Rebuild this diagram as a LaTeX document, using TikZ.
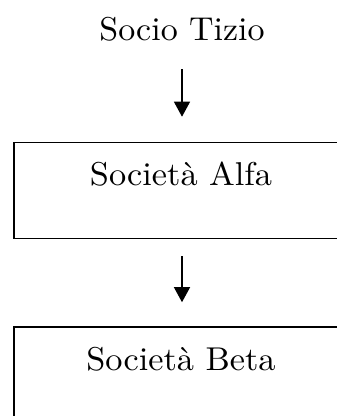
\documentclass[tikz,border=0pt]{standalone}
\usepackage{fontspec}
\newfontfamily\lmten{lmroman10-regular.otf}
\usetikzlibrary{arrows.meta}
\begin{document}
\begin{tikzpicture}[x=1pt,y=1pt,
  lbl/.style={font=\lmten\fontsize{33}{38}\selectfont, inner sep=0pt},
  boxnode/.style={lbl, draw, line width=1.6pt, minimum width=334pt, text height=43pt, text depth=53pt, anchor=base},
  conn/.style={line width=1.4pt, -{Triangle[length=15pt,width=16pt]}}]
\useasboundingbox (0,0) rectangle (337,-416);
\clip (0,0) rectangle (337,-416);
\node[lbl, text depth=0pt, anchor=base] (tizio) at (182,-40.5) {\scalebox{1.03}[1]{Socio Tizio}};
\node[boxnode] (alfa) at (181,-185.5) {\scalebox{1.04}[1]{Società Alfa}};
\node[boxnode] (beta) at (181,-370) {\scalebox{1.04}[1]{Società Beta}};
\draw[conn, shorten <=28.5pt, shorten >=25pt] (tizio.south) -- (tizio.south |- alfa.north);
\draw[conn, shorten <=17pt, shorten >=24pt] (tizio.south |- alfa.south) -- (tizio.south |- beta.north);
\end{tikzpicture}
\end{document}
